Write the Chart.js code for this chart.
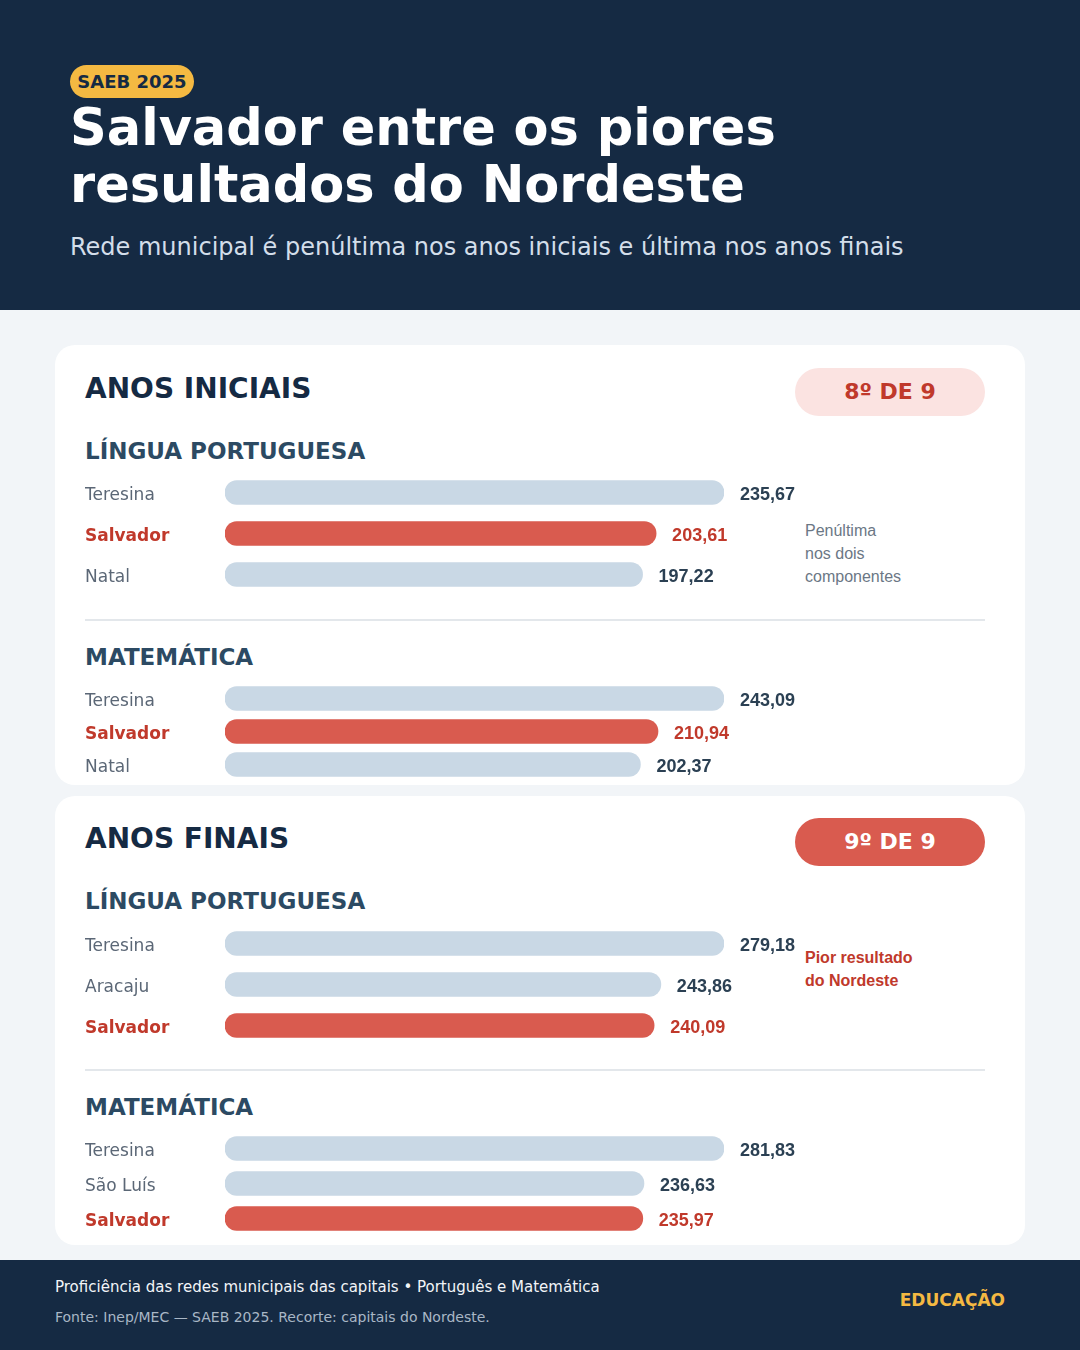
<!DOCTYPE html>
<html lang="pt-BR">
<head>
<meta charset="utf-8">
<title>SAEB 2025 - Salvador</title>
<script src="https://cdn.jsdelivr.net/npm/chart.js@4.4.1/dist/chart.umd.min.js"></script>
<style>
  html, body { margin: 0; padding: 0; }
  body { width: 1080px; height: 1350px; position: relative; background: #f2f5f8; font-family: "DejaVu Sans", sans-serif; overflow: hidden; }
  .abs { position: absolute; white-space: nowrap; }
  #header { left: 0; top: 0; width: 1080px; height: 310px; background: #152a43; }
  #footer { left: 0; top: 1260px; width: 1080px; height: 90px; background: #152a43; }
  .badge { left: 70px; top: 65px; width: 124px; height: 33px; border-radius: 17px; background: #f4b942; color: #152a43; font-weight: bold; font-size: 18px; line-height: 33px; text-align: center; }
  .title { left: 70px; top: 99px; color: #fff; font-weight: bold; font-size: 51px; line-height: 57px; }
  .subtitle { left: 70px; top: 235px; color: #d3deea; font-size: 24px; line-height: 24px; }
  .card { left: 55px; width: 970px; background: #fff; border-radius: 20px; }
  .sect { left: 85px; color: #152a43; font-weight: bold; font-size: 28px; line-height: 28px; }
  .sub { left: 85px; color: #2c4a63; font-weight: bold; font-size: 23px; line-height: 23px; }
  .pill { left: 795px; width: 190px; height: 48px; border-radius: 24px; font-weight: bold; font-size: 22px; line-height: 48px; text-align: center; }
  .rule { left: 85px; width: 900px; height: 2px; background: #e3e7eb; }
  .note { left: 805px; font-family: "Liberation Sans", Arial, sans-serif; font-size: 16px; line-height: 23px; }
  canvas { position: absolute; left: 85px; }
</style>
</head>
<body>
<div id="header" class="abs"></div>
<div class="abs badge">SAEB 2025</div>
<div class="abs title">Salvador entre os piores<br>resultados do Nordeste</div>
<div class="abs subtitle">Rede municipal é penúltima nos anos iniciais e última nos anos finais</div>

<div class="abs card" style="top:345px;height:440px;"></div>
<div class="abs sect" style="top:375px;">ANOS INICIAIS</div>
<div class="abs pill" style="top:368px;background:#fbe3e1;color:#c0392b;">8º DE 9</div>
<div class="abs sub" style="top:440px;">LÍNGUA PORTUGUESA</div>
<div class="abs note" style="top:519px;color:#6b7785;">Penúltima<br>nos dois<br>componentes</div>
<div class="abs rule" style="top:619px;"></div>
<div class="abs sub" style="top:646px;">MATEMÁTICA</div>
<canvas id="aiLp" width="900" height="123" style="top:472px;"></canvas>
<canvas id="aiMat" width="900" height="99" style="top:682px;"></canvas>

<div class="abs card" style="top:796px;height:449px;"></div>
<div class="abs sect" style="top:825px;">ANOS FINAIS</div>
<div class="abs pill" style="top:818px;background:#d95b4f;color:#fff;">9º DE 9</div>
<div class="abs sub" style="top:890px;">LÍNGUA PORTUGUESA</div>
<div class="abs note" style="top:946px;color:#c0392b;font-weight:bold;">Pior resultado<br>do Nordeste</div>
<div class="abs rule" style="top:1069px;"></div>
<div class="abs sub" style="top:1096px;">MATEMÁTICA</div>
<canvas id="afLp" width="900" height="123" style="top:923px;"></canvas>
<canvas id="afMat" width="900" height="105" style="top:1131px;"></canvas>

<div id="footer" class="abs"></div>
<div class="abs" style="left:55px;top:1280px;color:#f2f5f8;font-size:15px;line-height:15px;">Proficiência das redes municipais das capitais • Português e Matemática</div>
<div class="abs" style="left:55px;top:1310px;color:#a9b7c6;font-size:14px;line-height:14px;">Fonte: Inep/MEC — SAEB 2025. Recorte: capitais do Nordeste.</div>
<div class="abs" style="right:75px;top:1292px;color:#f4b942;font-weight:bold;font-size:17px;line-height:17px;">EDUCAÇÃO</div>

<script>
// anos iniciais
var aiLpCities = ['Teresina', 'Salvador', 'Natal'];
var aiLpValues = [235.67, 203.61, 197.22];
var aiMatCities = ['Teresina', 'Salvador', 'Natal'];
var aiMatValues = [243.09, 210.94, 202.37];
// anos finais
var afLpCities = ['Teresina', 'Aracaju', 'Salvador'];
var afLpValues = [279.18, 243.86, 240.09];
var afMatCities = ['Teresina', 'São Luís', 'Salvador'];
var afMatValues = [281.83, 236.63, 235.97];

var HIGHLIGHT = 'Salvador';
var RED = '#d95b4f', RED_TEXT = '#c0392b', GREY = '#c9d8e5';

function fmt(v) {
    return v.toFixed(2).replace('.', ',');
}

// draws the value right after each bar
var valueLabels = {
    id: 'valueLabels',
    afterDatasetsDraw: function(chart) {
        var ctx = chart.ctx;
        var cities = chart.data.labels;
        var meta = chart.getDatasetMeta(0);
        ctx.save();
        ctx.font = 'bold 18px "Liberation Sans", Arial, sans-serif';
        ctx.textBaseline = 'middle';
        ctx.textAlign = 'left';
        meta.data.forEach(function(bar, i) {
            ctx.fillStyle = cities[i] === HIGHLIGHT ? RED_TEXT : '#2b4053';
            ctx.fillText(fmt(chart.data.datasets[0].data[i]), bar.x + 16, bar.y + 3);
        });
        ctx.restore();
    }
};

function drawBars(id, cities, values) {
    var ctx = document.getElementById(id).getContext('2d');
    return new Chart(ctx, {
        type: 'bar',
        data: {
            labels: cities,
            datasets: [{
                data: values,
                backgroundColor: cities.map(function(c) { return c === HIGHLIGHT ? RED : GREY; }),
                barThickness: 24,
                borderRadius: 12,
                borderSkipped: false
            }]
        },
        options: {
            indexAxis: 'y',
            responsive: false,
            animation: false,
            layout: { padding: { left: 0, right: 261, top: 0, bottom: 0 } },
            plugins: { legend: { display: false }, tooltip: { enabled: false } },
            scales: {
                x: { display: false, min: 0, max: Math.max.apply(null, values) },
                y: {
                    grid: { display: false },
                    border: { display: false },
                    afterFit: function(axis) {
                        axis.width = 140;
                        // rows fill the canvas height evenly
                        axis.paddingTop = 0;
                        axis.paddingBottom = 0;
                    },
                    ticks: {
                        crossAlign: 'far',
                        padding: 0,
                        labelOffset: 3,
                        color: function(c) { return cities[c.index] === HIGHLIGHT ? RED_TEXT : '#5b6776'; },
                        font: function(c) {
                            return {
                                family: '"DejaVu Sans", sans-serif',
                                size: 17,
                                weight: cities[c.index] === HIGHLIGHT ? 'bold' : 'normal'
                            };
                        }
                    }
                }
            }
        },
        plugins: [valueLabels]
    });
}

drawBars('aiLp', aiLpCities, aiLpValues);
drawBars('aiMat', aiMatCities, aiMatValues);
drawBars('afLp', afLpCities, afLpValues);
drawBars('afMat', afMatCities, afMatValues);
</script>
</body>
</html>
